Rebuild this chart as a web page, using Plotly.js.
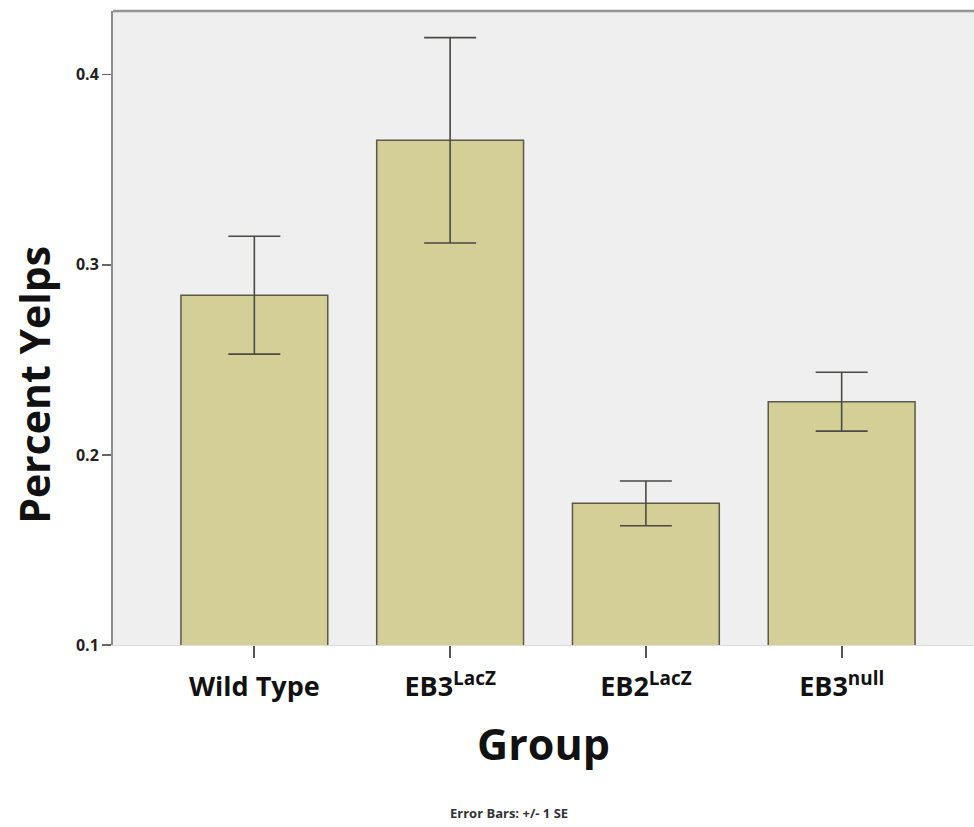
<!DOCTYPE html>
<html>
<head>
<meta charset="utf-8">
<script src="https://cdn.plot.ly/plotly-3.0.1.min.js"></script>
<style>html,body{margin:0;padding:0;background:#fff;}</style>
</head>
<body>
<div id="chart" style="width:974px;height:827px;"></div>
<script>
const groups = ["Wild Type", "EB3<sup>LacZ</sup>", "EB2<sup>LacZ</sup>", "EB3<sup>null</sup>"];
const meanYelps = [0.284, 0.3655, 0.1745, 0.228];
const seYelps = [0.031, 0.054, 0.0118, 0.0155];
const yTicks = [0.1, 0.2, 0.3, 0.4];
const yTickText = ["0.1", "0.2", "0.3", "0.4"];

const trace = {
  type: "bar",
  x: [0, 1, 2, 3],
  y: meanYelps,
  base: 0,
  width: 0.75,
  marker: { color: "#d3cf97", line: { color: "#5a5a4a", width: 1.5 } },
  error_y: { type: "data", array: seYelps, visible: true, color: "#4a4a44", thickness: 1.6, width: 26 },
  hoverinfo: "skip"
};

const layout = {
  width: 974, height: 827,
  margin: { l: 113, r: 0, t: 11, b: 182 },
  paper_bgcolor: "#ffffff",
  plot_bgcolor: "#efefef",
  showlegend: false,
  bargap: 0.25,
  xaxis: {
    range: [-0.722, 3.676],
    tickvals: [0, 1, 2, 3],
    ticktext: groups,
    ticks: "outside", ticklen: 12, tickwidth: 2, tickcolor: "#555555",
    ticklabelstandoff: 6,
    showline: true, linecolor: "#dddddd", linewidth: 1,
    showgrid: false, zeroline: false,
    tickfont: { family: "Open Sans, sans-serif", size: 27, color: "#111111", weight: "bold" },
    title: { text: "<b>Group</b>", font: { family: "Open Sans, sans-serif", size: 43, color: "#111111" }, standoff: 26 }
  },
  yaxis: {
    range: [0.1, 0.4335],
    tickvals: yTicks,
    ticktext: yTickText,
    ticks: "outside", ticklen: 9, tickwidth: 1.5, tickcolor: "#666666",
    showline: true, linecolor: "#8c8c8c", linewidth: 2,
    showgrid: false, zeroline: false,
    tickfont: { family: "Open Sans, sans-serif", size: 16, color: "#222222", weight: "bold" }
  },
  shapes: [
    { type: "line", xref: "paper", yref: "paper", x0: 0, x1: 1, y0: 1, y1: 1, line: { color: "#959595", width: 2.5 } }
  ],
  annotations: [
    { text: "<b>Percent Yelps</b>", textangle: -90, xref: "paper", yref: "paper", x: -0.092, y: 0.41, xanchor: "center", yanchor: "middle", showarrow: false,
      font: { family: "Open Sans, sans-serif", size: 41, color: "#111111" } },
    { text: "<b>Error Bars: +/- 1 SE</b>", xref: "paper", yref: "paper", x: 0.46, y: -0.265, xanchor: "center", yanchor: "middle", showarrow: false,
      font: { family: "Open Sans, sans-serif", size: 13, color: "#333333" } }
  ]
};

Plotly.newPlot("chart", [trace], layout, { displayModeBar: false, staticPlot: true });
</script>
</body>
</html>
